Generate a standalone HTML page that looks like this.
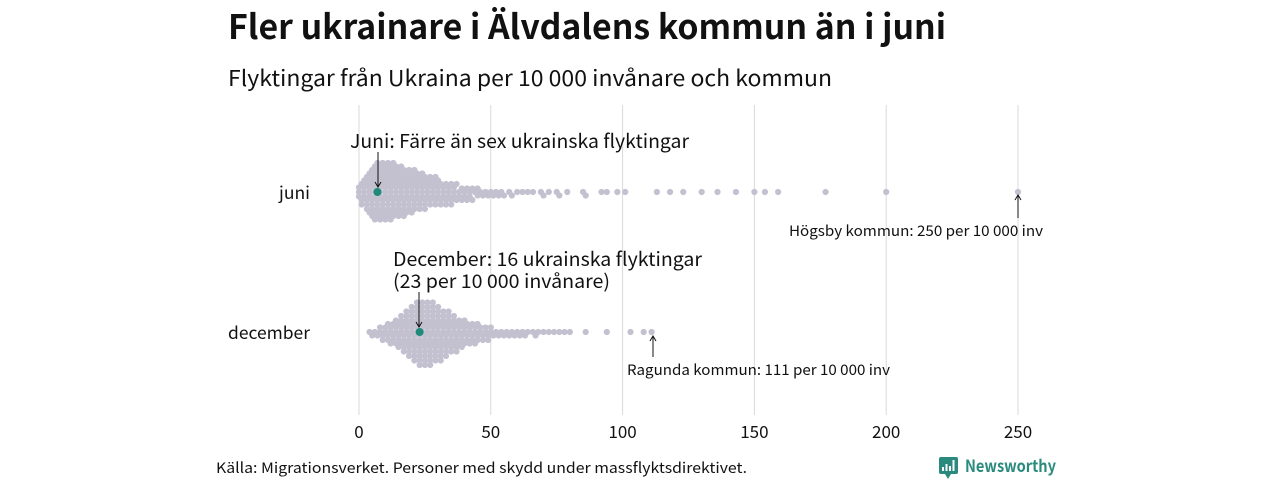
<!DOCTYPE html>
<html><head><meta charset="utf-8"><style>
html,body{margin:0;padding:0;background:#fff;}
svg{display:block;font-family:"Noto Sans CJK SC","Liberation Sans",sans-serif;}
</style></head><body>
<svg id="chart" width="1280" height="480" viewBox="0 0 1280 480" xmlns="http://www.w3.org/2000/svg">
<text x="228" y="39" font-size="34" font-weight="bold" fill="#111" textLength="718" lengthAdjust="spacingAndGlyphs">Fler ukrainare i Älvdalens kommun än i juni</text>
<text x="228" y="86" font-size="22" fill="#111" textLength="604" lengthAdjust="spacingAndGlyphs">Flyktingar från Ukraina per 10 000 invånare och kommun</text>
<g id="grid"></g>
<g id="ticks"></g>
<text x="310" y="199" font-size="17" text-anchor="end" fill="#111" textLength="31" lengthAdjust="spacingAndGlyphs">juni</text>
<text x="310" y="339" font-size="17" text-anchor="end" fill="#111" textLength="82" lengthAdjust="spacingAndGlyphs">december</text>
<g id="dots"></g>
<g>
<text x="350" y="148" font-size="19" fill="#111" textLength="339" lengthAdjust="spacingAndGlyphs">Juni: Färre än sex ukrainska flyktingar</text>
<line x1="378" y1="152" x2="378" y2="186" stroke="#111" stroke-width="1"/>
<path d="M375,182 L378,187 L381,182" fill="none" stroke="#111"/>
</g>
<g>
<text x="393" y="266" font-size="19" fill="#111" textLength="309" lengthAdjust="spacingAndGlyphs">December: 16 ukrainska flyktingar</text>
<text x="393" y="288" font-size="19" fill="#111" textLength="217" lengthAdjust="spacingAndGlyphs">(23 per 10 000 invånare)</text>
<line x1="419" y1="292" x2="419" y2="326" stroke="#111" stroke-width="1"/>
<path d="M416,322 L419,327 L422,322" fill="none" stroke="#111"/>
</g>
<g>
<text x="789" y="236" font-size="14.5" fill="#111" textLength="254" lengthAdjust="spacingAndGlyphs">Högsby kommun: 250 per 10 000 inv</text>
<line x1="1018" y1="218" x2="1018" y2="196" stroke="#111"/>
<path d="M1015,200 L1018,195 L1021,200" fill="none" stroke="#111"/>
</g>
<g>
<text x="627" y="375" font-size="14.5" fill="#111" textLength="263" lengthAdjust="spacingAndGlyphs">Ragunda kommun: 111 per 10 000 inv</text>
<line x1="653" y1="357" x2="653" y2="337" stroke="#111"/>
<path d="M650,341 L653,336 L656,341" fill="none" stroke="#111"/>
</g>
<text x="216" y="473" font-size="14.5" fill="#111" textLength="531" lengthAdjust="spacingAndGlyphs">Källa: Migrationsverket. Personer med skydd under massflyktsdirektivet.</text>
<g>
<rect x="939" y="457" width="19" height="17" rx="2" fill="#2a8a7e"/>
<path d="M945,474 L948,479 L951,474 Z" fill="#2a8a7e"/>
<rect x="942" y="467" width="2" height="4" fill="#fff"/><rect x="945.5" y="464" width="2" height="7" fill="#fff"/><rect x="949" y="466" width="2" height="5" fill="#fff"/><rect x="952.5" y="460" width="2" height="11" fill="#fff"/>
<text x="965" y="472" font-size="16.5" font-weight="bold" fill="#2a8a7e" textLength="91" lengthAdjust="spacingAndGlyphs">Newsworthy</text>
</g>
</svg>
<script>
const tickValues=[0,50,100,150,200,250];
const tickLabels=["0","50","100","150","200","250"];
const juniValues=[0,0,0,1,1,1,2,2,2,2,3,3,3,3,3,4,4,4,4,4,4,5,5,5,5,5,5,5,
6,6,6,6,6,6,6,6,7,7,7,7,7,7,7,7,8,8,8,8,8,8,8,8,9,9,9,9,9,9,9,9,
10,10,10,10,10,10,10,10,11,11,11,11,11,11,11,11,12,12,12,12,12,12,12,12,13,13,13,13,13,13,13,13,
14,14,14,14,14,14,14,15,15,15,15,15,15,15,16,16,16,16,16,16,16,17,17,17,17,17,17,17,
18,18,18,18,18,18,19,19,19,19,19,19,20,20,20,20,20,20,21,21,21,21,21,21,
22,22,22,22,22,23,23,23,23,23,24,24,24,24,24,25,25,25,25,25,
26,26,26,26,27,27,27,27,28,28,28,28,29,29,29,29,30,30,30,30,
31,31,31,32,32,32,33,33,33,34,34,34,35,35,35,36,36,36,37,37,38,38,39,39,40,40,
41,41,42,42,43,43,44,45,45,46,47,48,49,50,51,52,53,54,55,57,58,60,62,64,66,
69,70,72,75,76,79,85,86,92,94,98,101,113,118,123,130,136,143,150,154,159,177,200,250];
const decValues=[4,5,6,7,8,8,9,9,10,10,11,11,11,12,12,12,13,13,13,14,14,14,14,15,15,15,15,
16,16,16,16,16,17,17,17,17,17,18,18,18,18,18,18,19,19,19,19,19,19,20,20,20,20,20,20,20,21,21,21,21,21,21,21,
22,22,22,22,22,22,22,22,23,23,23,23,23,23,23,23,24,24,24,24,24,24,24,24,25,25,25,25,25,25,25,25,
26,26,26,26,26,26,26,26,27,27,27,27,27,27,27,27,28,28,28,28,28,28,28,28,
29,29,29,29,29,29,29,30,30,30,30,30,30,30,31,31,31,31,31,31,31,
32,32,32,32,32,32,33,33,33,33,33,33,34,34,34,34,34,34,35,35,35,35,35,36,36,36,36,36,37,37,37,37,37,
38,38,38,38,39,39,39,39,40,40,40,40,41,41,41,42,42,42,43,43,43,44,44,44,45,45,45,
46,46,47,47,48,48,49,49,50,50,51,52,53,54,55,56,57,58,59,60,61,62,63,64,66,67,68,70,72,74,76,78,80,86,94,103,108,111];
const juniHighlight=7;
const decHighlight=23;
const X=v=>359+v*(1018-359)/250;
const ns="http://www.w3.org/2000/svg";
const grid=document.getElementById('grid'),ticks=document.getElementById('ticks'),dots=document.getElementById('dots');
tickValues.forEach((t,i)=>{
 const l=document.createElementNS(ns,'line');
 
 
 l.setAttribute('x1',X(t));l.setAttribute('x2',X(t));l.setAttribute('y1',105);l.setAttribute('y2',415);
 l.setAttribute('stroke','#d9d9d9');l.setAttribute('stroke-width','1');grid.appendChild(l);
 const tx=document.createElementNS(ns,'text');
 
 
 tx.setAttribute('x',X(t));tx.setAttribute('y',438);tx.setAttribute('font-size','17');tx.setAttribute('text-anchor','middle');tx.setAttribute('fill','#111');
 tx.textContent=tickLabels[i];ticks.appendChild(tx);
});
function swarm(vals,cy,hl){
 const placed=[];const D=4.1,r=3.1;
 vals.slice().sort((a,b)=>a-b).forEach(v=>{
  const x=X(v);let y=0;
  for(let k=0;k<600;k++){
   const off=(k%2?1:-1)*Math.ceil(k/2)*0.5;
   let ok=true;
   for(const p of placed){const dx=p[0]-x;if(Math.abs(dx)<D){const dy=p[1]-off;if(dx*dx+dy*dy<D*D){ok=false;break;}}}
   if(ok){y=off;break;}
  }
  placed.push([x,y]);
  const c=document.createElementNS(ns,'circle');
  
  
  c.setAttribute('cx',x);c.setAttribute('cy',cy+y);c.setAttribute('r',r);c.setAttribute('fill','#c3c1d0');
  dots.appendChild(c);
 });
 const h=document.createElementNS(ns,'circle');
 
 
 h.setAttribute('cx',X(hl));h.setAttribute('cy',cy);h.setAttribute('r',4);h.setAttribute('fill','#1f8a7a');
 dots.appendChild(h);
}
swarm(juniValues,192,juniHighlight);
swarm(decValues,332,decHighlight);
</script>
</body></html>
